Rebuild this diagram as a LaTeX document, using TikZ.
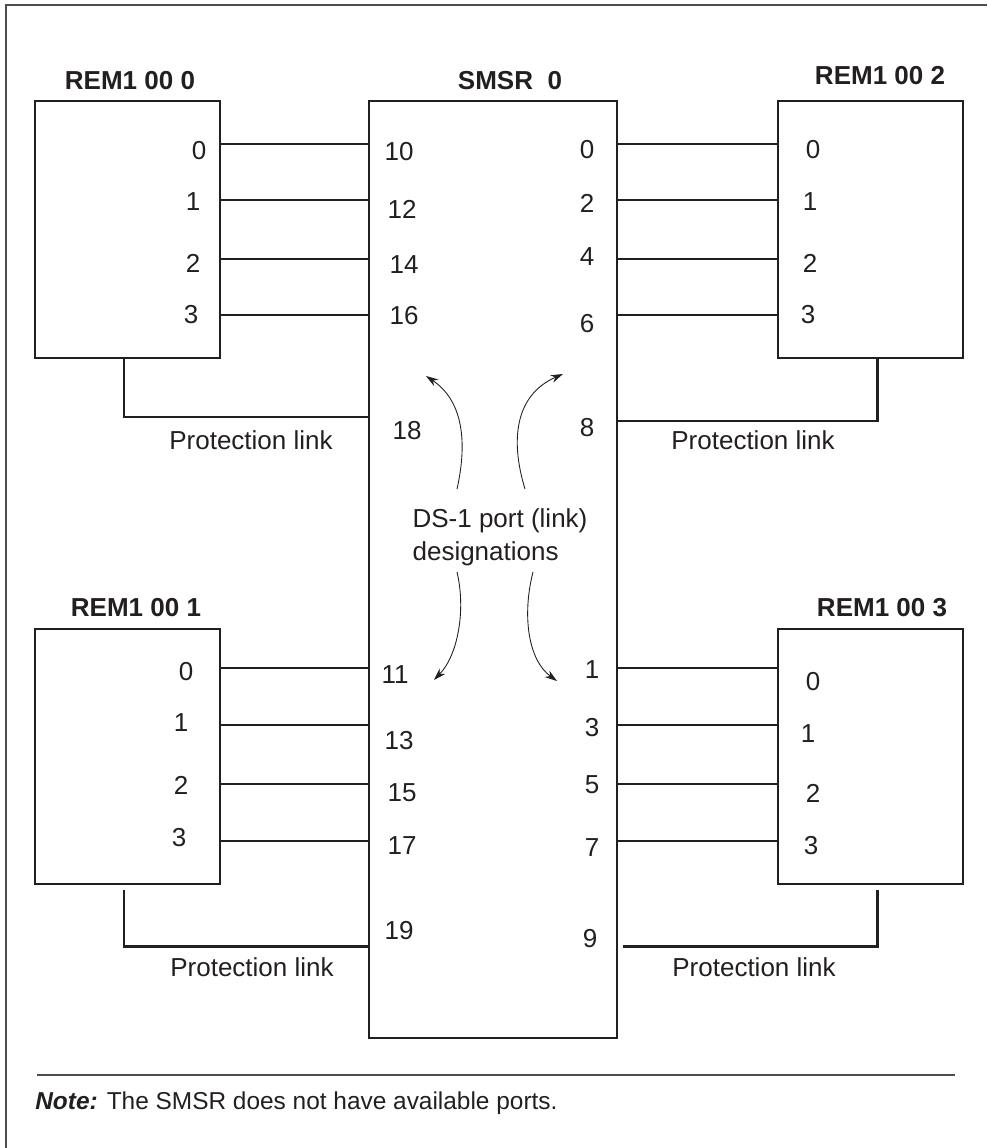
\documentclass[tikz,border=0pt]{standalone}
\usepackage{fontspec}
\setmainfont{Liberation Sans}
\usetikzlibrary{arrows.meta,calc}
\usepackage{xcolor}
\definecolor{inkgray}{HTML}{231F20}
\definecolor{rulegray}{HTML}{4D4D4D}

\begin{document}
\begin{tikzpicture}[x=0.02cm,y=-0.02cm,
      font=\fontsize{14.8}{18.7}\selectfont, inkgray,
      unit/.style={draw=inkgray,line width=1.1pt,inner sep=0pt,anchor=north west,
                   minimum width=3.7cm,minimum height=5.14cm},
      head/.style={font=\fontsize{14.8}{18.7}\selectfont\bfseries,inner sep=0pt},
      num/.style={inner sep=0pt},
      note/.style={inner sep=0pt,align=left},
      port/.style={draw=inkgray,line width=0.9pt},
      prot/.style={draw=inkgray,line width=1.7pt},
      arr/.style={-{Stealth[length=7pt,width=4.5pt]},line width=0.5pt,inkgray}]
    \useasboundingbox (0,0) rectangle (987,1148);
    \draw[rulegray,line width=0.8pt] (6,1148) -- (6,5) -- (987,5);
    \node[unit] (rem0) at (34,100) {};
    \node[unit,minimum width=4.96cm,minimum height=18.74cm] (smsr) at (368,100) {};
    \node[unit] (rem2) at (777,100) {};
    \node[unit,minimum height=5.1cm] (rem1) at (34,628) {};
    \node[unit,minimum height=5.1cm] (rem3) at (777,628) {};
    \node[head] (h0) at (130,81)  {REM1 00 0};
    \node[head] (hs) at (510,81)  {SMSR\ \ 0};
    \node[head] (h2) at (880,76)  {REM1 00 2};
    \node[head] (h1) at (136,608) {REM1 00 1};
    \node[head] (h3) at (882,608) {REM1 00 3};
    \foreach \y in {144,200,259,315} {
      \draw[port] (rem0.east |- 0,\y) -- (smsr.west |- 0,\y);
      \draw[port] (smsr.east |- 0,\y) -- (rem2.west |- 0,\y);
    }
    \foreach \y in {668,725,784,841} {
      \draw[port] (rem1.east |- 0,\y) -- (smsr.west |- 0,\y);
      \draw[port] (smsr.east |- 0,\y) -- (rem3.west |- 0,\y);
    }
    \draw[prot] (rem0.south -| 124,0) |- (smsr.west |- 0,417);
    \draw[prot] (rem2.south -| 877,0) |- (smsr.east |- 0,421);
    \draw[prot] ($(rem1.south -| 124,0)+(0,5)$) |- (smsr.west |- 0,946);
    \draw[prot] ($(rem3.south -| 877,0)+(0,5)$) |- ($(smsr.east |- 0,946)+(5,0)$);
    \node[num] (pl0) at (251,440) {Protection link};
    \node[num] (pl2) at (753,440) {Protection link};
    \node[num] (pl1) at (252,967) {Protection link};
    \node[num] (pl3) at (754,967) {Protection link};
    \foreach \x/\y/\t [count=\i] in {199/151/0,193/202/1,193/263/2,191/315/3,
        399/152/10,402/209/12,404/265/14,404/316/16,407/431/18,
        587/150/0,587/203/2,587/257/4,587/324/6,587/428/8,
        813/150/0,810/202/1,810/263/2,808/315/3,
        186/672/0,181/723/1,181/785/2,179/838/3,
        395/675/11,399/741/13,402/793/15,402/846/17,399/931/19,
        592/670/1,592/728/3,592/785/5,592/848/7,590/939/9,
        813/682/0,808/734/1,813/793/2,811/846/3}
      \node[num] (n\i) at (\x,\y) {\t};
    \node[note] (ds) at (500,537) {DS-1 port (link)\\designations};
    \coordinate (ulA) at (457,489);  \coordinate (ulB) at (426,376);
    \coordinate (urA) at (525,489);  \coordinate (urB) at (563,374);
    \coordinate (llA) at (457,572);  \coordinate (llB) at (434,680);
    \coordinate (lrA) at (533,572);  \coordinate (lrB) at (557,681);
    \draw[arr] (ulA) .. controls (468,440) and (462,400) .. (ulB);
    \draw[arr] (urA) .. controls (510,440) and (515,395) .. (urB);
    \draw[arr] (llA) .. controls (466,610) and (458,655) .. (llB);
    \draw[arr] (lrA) .. controls (522,615) and (528,660) .. (lrB);
    \draw[rulegray,line width=0.6pt] (37,1075) -- (955,1075);
    \node[note,anchor=west,font=\fontsize{13.9}{16}\selectfont] (nt) at (35,1103)
      {\textbf{\itshape Note:} The SMSR does not have available ports.};
  \end{tikzpicture}
\end{document}
